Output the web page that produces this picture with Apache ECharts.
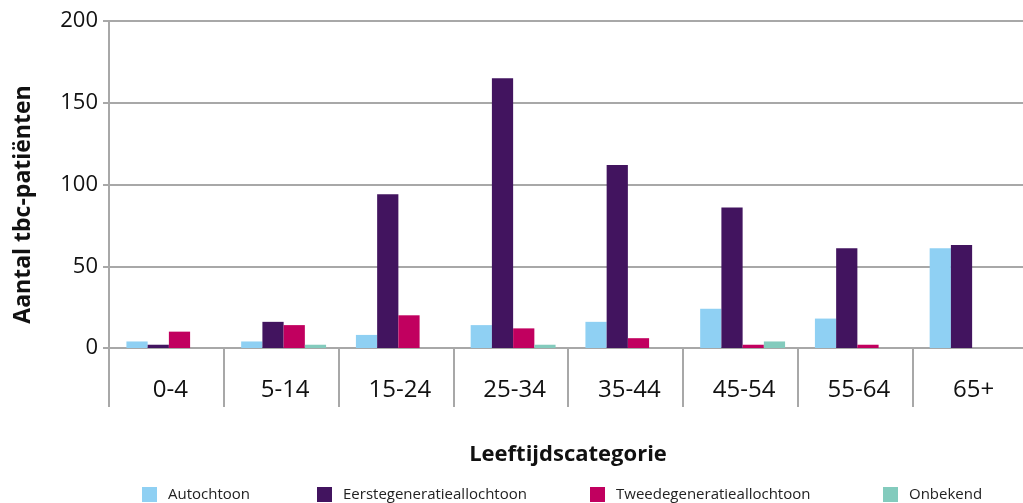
<!DOCTYPE html>
<html>
<head>
<meta charset="utf-8">
<script src="https://cdn.jsdelivr.net/npm/echarts@6/dist/echarts.min.js"></script>
<style>
  html, body { margin: 0; padding: 0; background: #fff; overflow: hidden; }
  /* the last category runs a few pixels past the right edge of the window */
  #chart { width: 1031px; height: 503px; }
</style>
</head>
<body>
<div id="chart"></div>
<script>
// Age groups on the category axis
const categories = ['0-4', '5-14', '15-24', '25-34', '35-44', '45-54', '55-64', '65+'];

// Number of TB patients per age group, by origin
const autochtoon = [4, 4, 8, 14, 16, 24, 18, 61];
const eerstegeneratie = [2, 16, 94, 165, 112, 86, 61, 63];
const tweedegeneratie = [10, 14, 20, 12, 6, 2, 2, 0];
const onbekend = [0, 2, 0, 2, 0, 4, 0, 0];

const seriesNames = ['Autochtoon', 'Eerstegeneratieallochtoon', 'Tweedegeneratieallochtoon', 'Onbekend'];
const seriesData = [autochtoon, eerstegeneratie, tweedegeneratie, onbekend];
const colors = ['#8fd0f3', '#42145f', '#c1005f', '#83cbbd'];

const yTicks = [0, 50, 100, 150, 200];
const yMin = 0, yMax = 200, yStep = 50;

const font = 'Open Sans';
const axisGray = '#a8a8a8';

const legendLefts = [137, 312, 585, 878];

const chart = echarts.init(document.getElementById('chart'));
chart.setOption({
  animation: false,
  textStyle: { fontFamily: font },
  color: colors,
  // grid 0 carries the visible axes; grid 1 holds the bar groups,
  // which sit a little right of the category centres
  grid: [
    { left: 109, width: 918, top: 21, bottom: 155 },
    { left: 111.5, width: 918, top: 21, bottom: 155 }
  ],
  legend: seriesNames.map((n, i) => ({
    data: [n],
    left: legendLefts[i],
    top: 482,
    itemWidth: 15,
    itemHeight: 15,
    icon: 'rect',
    textStyle: { fontFamily: font, fontSize: 15, color: '#222', padding: [0, 0, 0, 6] }
  })),
  xAxis: [
    {
      gridIndex: 0,
      type: 'category',
      data: categories,
      name: 'Leeftijdscategorie',
      nameLocation: 'middle',
      nameGap: 96,
      nameTextStyle: { fontFamily: font, fontSize: 22, fontWeight: 'bold', color: '#111' },
      axisLine: { show: true, lineStyle: { color: axisGray, width: 2 } },
      axisTick: { show: true, alignWithLabel: false, interval: 0, length: 59, lineStyle: { color: axisGray, width: 2 } },
      axisLabel: { fontFamily: font, fontSize: 24, color: '#111', margin: 30, padding: [0, 0, 0, 8] }
    },
    {
      gridIndex: 1,
      type: 'category',
      data: categories,
      show: false
    }
  ],
  yAxis: [
    {
      gridIndex: 0,
      type: 'value',
      min: yMin,
      max: yMax,
      interval: yStep,
      name: 'Aantal tbc-patiënten',
      nameLocation: 'middle',
      nameGap: 74,
      nameTextStyle: {
        fontFamily: font, fontSize: 23, fontWeight: 'bold', color: '#111',
        padding: [0, 40, 0, 0]
      },
      axisLine: { show: true, lineStyle: { color: axisGray, width: 2 } },
      axisTick: { show: true, length: 6, lineStyle: { color: axisGray, width: 2 } },
      axisLabel: {
        fontFamily: font, fontSize: 22, color: '#111', margin: 11,
        formatter: v => (yTicks.includes(v) ? String(v) : '')
      },
      splitLine: { lineStyle: { color: axisGray, width: 2 } }
    },
    {
      gridIndex: 1,
      type: 'value',
      min: yMin,
      max: yMax,
      interval: yStep,
      show: false,
      splitLine: { show: false }
    }
  ],
  series: seriesNames.map((n, i) => ({
    name: n,
    type: 'bar',
    xAxisIndex: 1,
    yAxisIndex: 1,
    data: seriesData[i],
    barGap: '0%',
    barCategoryGap: '26%',
    itemStyle: { color: colors[i] }
  }))
});
</script>
</body>
</html>
